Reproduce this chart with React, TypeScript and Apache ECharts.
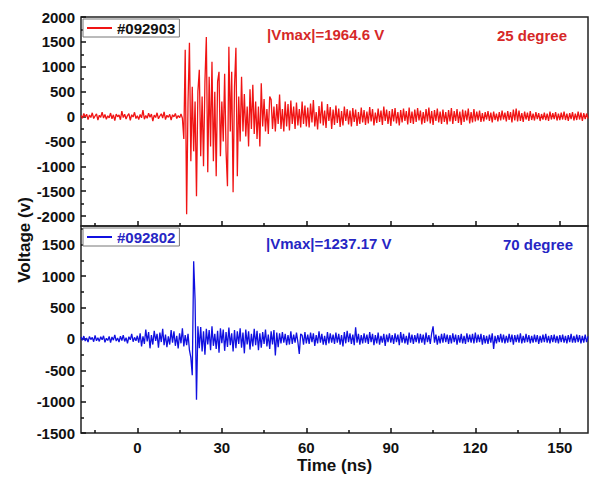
import React, { useEffect, useRef } from "react";
import * as echarts from "echarts";

// time axis sampling: start (ns) and step (ns)
const T_START = -20;
const T_STEP = 0.5;

// #092903, 25 degree (V)
const topValues = [
  // -20 .. 16 ns
  20, -35, 60, -10, 45, -60, 30, -20, 75, -40, 10, 55, -70, 25, -15, 90, -30, 40, -55, 15,
  -25, 70, -45, 35, -80, 50, -5, 30, -65, 110, -20, 45, -50, 20, 60, -75, 35, -10, 85, -40,
  15, -60, 40, -25, 130, -55, 20, -35, 65, -15, 50, -90, 30, -20, 75, -45, 10, 55, -30, 95,
  -60, 25, -15, 45, -70, 35, -5, 60, -40, 20, -25, 50, -35,
  // 16.5 .. 36 ns (burst)
  -450, 1340, -1965, 300, 1480, -900, 600, -700, 300, -1600,
  500, 940, -800, 400, -1000, 700, 1600, -1120, 800, -600,
  1100, -900, 500, -1200, 700, 900, -800, 300, -500, 860,
  -700, -1400, 1400, -300, 900, -1520, 600, 1380, -1200, 400,
  // 36.5 .. 60 ns (decay)
  -500, 800, -300, 450, -400, 200, -600, 550, -250, 640,
  -350, 300, -450, 200, -600, 670, -200, 350, -300, 150,
  -350, 400, 340, -250, 200, -300, 250, -150, 440, -250,
  150, -300, 300, -200, 250, -280, 320, -150, 200, -250,
  280, -180, 150, -220, 300, -150, 220, -200,
  // 60.5 .. 160 ns
  180, -220, 260, -120, 330, -200, 90, -260, 210, -140, 300, -180, 120, -230, 250, -90, 190, -250, 140, -170,
  220, -130, 160, -210, 110, -180, 200, -90, 150, -160, 120, -200, 170, -110, 140, -190, 90, -150, 180, -120,
  130, -170, 100, -140, 190, -100, 150, -180, 80, -130, 160, -110, 120, -170, 200, -90, 140, -150, 110, -190,
  150, -100, 170, -140, 90, -180, 130, -120, 160, -90, 110, -160, 180, -130, 100, -150, 140, -110, 170, -80,
  120, -160, 90, -130, 150, -100, 180, -140, 110, -170, 130, -90, 160, -120, 100, -150, 140, -110, 90, -160,
  130, -100, 170, -150, 110, -90, 150, -130, 100, -170, 140, -110, 120, -80, 160, -140, 90, -120, 150, -100,
  100, -80, 120, -110, 70, -100, 90, -60, 110, -90, 80, -120, 100, -70, 60, -100, 90, -80, 120, -60,
  80, -100, 110, -70, 90, -120, 140, -80, 160, -100, 120, -90, 70, -110, 100, -60, 80, -90, 110, -70,
  60, -80, 90, -50, 70, -90, 50, -60, 80, -70, 60, -90, 100, -60, 70, -50, 90, -80, 60, -70,
  80, -60, 100, -70, 60, -90, 70, -50, 90, -80, 60, -70, 100, -60, 80, -90, 70, -50, 60, -40,
];

// #092802, 70 degree (V)
const bottomValues = [
  // -20 .. 0 ns
  30, -20, 45, -35, 15, -50, 40, -10, 25, -45, 55, -30, 20, -40, 35, -15, 50, -55, 10, -25,
  40, -60, 30, -20, 65, -35, 15, -50, 45, -25, 60, -40, 20, -70, 35, -15, 80, -45, 25, -30,
  50,
  // 0.5 .. 18.5 ns
  -60, 90, -120, 40, -80, 150, -40, 110, -150, 60, -90, 130, -30, 80, -140, 100, -50, 160, -100, 70,
  -130, 40, -90, 140, -60, 120, -110, 50, -150, 90, -70, 170, -120, 60, -100, 80, -180,
  // 19 .. 22 ns (spike)
  -300, -580, 1237, 620, -970, 200, -150,
  // 22.5 .. 50 ns
  190, -200, 120, -250, 160, -90, 140, -180, 200, -110, 80, -160, 130, -220, 170, -70, 150, -190, 110, -130,
  180, -100, 90, -200, 140, -150, 120, -80, 170, -140, 100, -230, 150, -90, 120, -170, 80, -120, 160, -100,
  130, -180, 90, -140, 110, -80, 150, -120, 70, -160, 120, -90, 140, -265, 100, -130,
  // 50.5 .. 160 ns
  90, -70, 110, -60, 80, -100, 60, -90, 120, -80, 70, -60, 100, -50, -238, 80, 60, -90, 110, -70,
  70, -80, 100, -50, 90, -110, 60, -70, 120, -60, 80, -90, 50, -100, 110, -70, 90, -60, 70, -80,
  100, -60, 80, -90, 60, -120, 110, -70, 130, -50, 90, -80, 70, -100, 185, -60, 80, -90, 60, -70,
  90, -60, 70, -80, 110, -50, 80, -100, 60, -70, 100, -90, 50, -60, 80, -110, 70, -50, 90, -60,
  60, -80, 90, -50, 70, -100, 110, -60, 80, -70, 50, -90, 100, -60, 70, -80, 60, -50, 90, -70,
  80, -60, 70, -90, 100, -50, 60, -80, 90, 200, -60, 70, -90, 50, -70, 80, -60, 90, -50, 70,
  -80, 60, -70, 90, -50, 70, -90, 60, -60, 80, -70, 50, -80, 90, -50, 70, -60, 80, -70, 100,
  -60, 70, -50, 80, -90, 60, -70, 50, -80, 70, -60, 90, -160, 50, -70, 60, -50, 80, -60, 70,
  -70, 50, -60, 80, -50, 70, -90, 60, -50, 70, -60, 90, -70, 50, -60, 80, -50, 60, -70, 50,
  -60, 70, -50, 60, -80, 50, -60, 70, -50, 80, -60, 50, -70, 60, -50, 70, -60, 50, -70, 60,
  -50, 70, -60, 50, -70, 60, -50, 80, -60, 50, -60, 70, -50, 60, -70, 50, -60, 70, -50, 40,
];

const xMajorTicks = [0, 30, 60, 90, 120, 150];
const xMinorTicks = [-15, 15, 45, 75, 105, 135];
const topYMajorTicks = [-2000, -1500, -1000, -500, 0, 500, 1000, 1500, 2000];
const topYMinorTicks = [-1750, -1250, -750, -250, 250, 750, 1250, 1750];
const bottomYMajorTicks = [-1500, -1000, -500, 0, 500, 1000, 1500];
const bottomYMinorTicks = [-1250, -750, -250, 250, 750, 1250, 1750];

const topName = "#092903";
const bottomName = "#092802";
const topNote = "|Vmax|=1964.6 V";
const topAngle = "25 degree";
const bottomNote = "|Vmax|=1237.17 V";
const bottomAngle = "70 degree";

const FONT = "'Liberation Sans', Arial, sans-serif";
const RED = "#f01414";
const BLUE = "#1010e0";
const RED_TEXT = "#d62828";
const BLUE_TEXT = "#2626c4";

const toPairs = (vals: number[]) => vals.map((v, i) => [T_START + T_STEP * i, v]);
const plain = (v: number) => String(v);

function xAxisFor(gridIndex: number, major: boolean, labels: boolean): any {
  return {
    type: "value",
    gridIndex,
    min: -20,
    max: 160,
    position: "bottom",
    axisLine: { show: false, onZero: false },
    splitLine: { show: false },
    axisTick: {
      show: true,
      inside: true,
      length: major ? 5 : 3,
      customValues: major ? xMajorTicks : xMinorTicks,
      lineStyle: { color: "#111", width: 1.5 },
    },
    axisLabel: labels
      ? {
          show: true,
          customValues: xMajorTicks,
          formatter: plain,
          margin: 7,
          color: "#111",
          fontSize: 15,
          fontWeight: "bold",
          fontFamily: FONT,
        }
      : { show: false },
    name: labels ? "Time (ns)" : undefined,
    nameLocation: "middle",
    nameGap: 24,
    nameTextStyle: labels
      ? { fontSize: 17, fontWeight: "bold", color: "#111", fontFamily: FONT, verticalAlign: "top" }
      : undefined,
  };
}

function yAxisFor(gridIndex: number, min: number, max: number, ticks: number[], major: boolean): any {
  return {
    type: "value",
    gridIndex,
    min,
    max,
    position: "left",
    axisLine: { show: false, onZero: false },
    splitLine: { show: false },
    axisTick: {
      show: true,
      inside: true,
      length: major ? 5 : 3,
      customValues: ticks,
      lineStyle: { color: "#111", width: 1.5 },
    },
    axisLabel: major
      ? {
          show: true,
          customValues: ticks,
          formatter: plain,
          margin: 6,
          color: "#111",
          fontSize: 15,
          fontWeight: "bold",
          fontFamily: FONT,
        }
      : { show: false },
  };
}

export default function App() {
  const ref = useRef<HTMLDivElement>(null);

  useEffect(() => {
    if (!ref.current) return;
    const chart = echarts.init(ref.current, undefined, { renderer: "svg" });
    const legendCommon = {
      orient: "horizontal",
      left: 83,
      itemWidth: 25,
      itemHeight: 2,
      itemGap: 4,
      icon: "rect",
      padding: [0, 4, 0, 4],
      borderColor: "#777",
      borderWidth: 1,
      backgroundColor: "#fff",
      selectedMode: false,
    };
    chart.setOption({
      animation: false,
      backgroundColor: "#fff",
      textStyle: { fontFamily: FONT },
      grid: [
        { left: 81, top: 17, width: 507, height: 209, show: true, borderColor: "#222", borderWidth: 1.5, backgroundColor: "transparent" },
        { left: 81, top: 226, width: 507, height: 207, show: true, borderColor: "#222", borderWidth: 1.5, backgroundColor: "transparent" },
      ],
      xAxis: [
        xAxisFor(0, true, false),
        xAxisFor(0, false, false),
        xAxisFor(1, true, true),
        xAxisFor(1, false, false),
      ],
      yAxis: [
        yAxisFor(0, -2200, 2000, topYMajorTicks, true),
        yAxisFor(0, -2200, 2000, topYMinorTicks, false),
        yAxisFor(1, -1500, 1800, bottomYMajorTicks, true),
        yAxisFor(1, -1500, 1800, bottomYMinorTicks, false),
      ],
      legend: [
        {
          ...legendCommon,
          top: 19,
          data: [topName],
          textStyle: { fontSize: 15, fontWeight: "bold", color: "#111", fontFamily: FONT, padding: [1, 0, 0, 0], lineHeight: 17 },
        },
        {
          ...legendCommon,
          top: 228,
          data: [bottomName],
          textStyle: { fontSize: 15, fontWeight: "bold", color: BLUE_TEXT, fontFamily: FONT, padding: [1, 0, 0, 0], lineHeight: 17 },
        },
      ],
      series: [
        {
          name: topName,
          type: "line",
          xAxisIndex: 0,
          yAxisIndex: 0,
          data: toPairs(topValues),
          showSymbol: false,
          symbol: "none",
          lineStyle: { color: RED, width: 1.3 },
          itemStyle: { color: RED },
        },
        {
          name: bottomName,
          type: "line",
          xAxisIndex: 2,
          yAxisIndex: 2,
          data: toPairs(bottomValues),
          showSymbol: false,
          symbol: "none",
          lineStyle: { color: BLUE, width: 1.3 },
          itemStyle: { color: BLUE },
        },
      ],
      graphic: [
        {
          type: "text",
          left: 267,
          top: 27,
          style: { text: topNote, fill: RED_TEXT, font: `bold 15px ${FONT}` },
        },
        {
          type: "text",
          left: 497,
          top: 28,
          style: { text: topAngle, fill: RED_TEXT, font: `bold 15px ${FONT}` },
        },
        {
          type: "text",
          left: 266,
          top: 236,
          style: { text: bottomNote, fill: BLUE_TEXT, font: `bold 15px ${FONT}` },
        },
        {
          type: "text",
          left: 503,
          top: 237,
          style: { text: bottomAngle, fill: BLUE_TEXT, font: `bold 15px ${FONT}` },
        },
        {
          type: "text",
          x: 24,
          y: 240,
          rotation: Math.PI / 2,
          style: {
            text: "Voltage (v)",
            fill: "#111",
            font: `bold 17px ${FONT}`,
            align: "center",
            verticalAlign: "middle",
          },
        },
      ],
    });
    return () => chart.dispose();
  }, []);

  return (
    <div
      ref={ref}
      style={{ position: "fixed", left: 0, top: 0, width: 589, height: 477, background: "#fff" }}
    />
  );
}
